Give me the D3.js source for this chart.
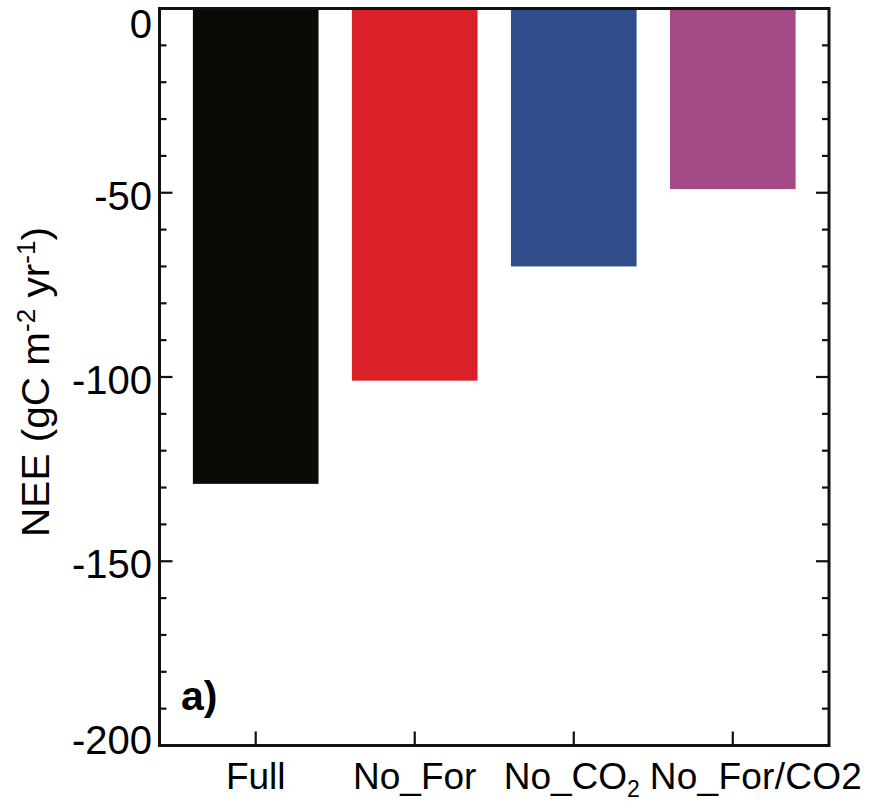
<!DOCTYPE html>
<html><head><meta charset="utf-8">
<script src="https://cdn.jsdelivr.net/npm/d3@7"></script>
<style>body{margin:0;background:#fff}svg{display:block}text{font-family:"Liberation Sans",Arial,Helvetica,sans-serif}</style>
</head><body>
<svg id="c" width="882" height="803"></svg>
<script>
const categories = ["Full", "No_For", "No_CO2", "No_For/CO2"];
const values = [-129, -101, -70, -49];
const colors = ["#0b0b05", "#da2128", "#324d8c", "#a34a87"];
const yTicks = [0, -50, -100, -150, -200];
const yMinor = d3.range(0, -201, -10);

const svg = d3.select("#c");
const L = 159.5, R = 829, T = 8.5, B = 745.5;
const x = d3.scaleBand().domain(categories).range([L, R]).paddingInner(0.21).paddingOuter(0.21);
const y = d3.scaleLinear().domain([0, -200]).range([T, B]);

// bars
svg.append("g").selectAll("rect").data(categories).join("rect")
  .attr("x", d => x(d)).attr("width", x.bandwidth())
  .attr("y", y(0)).attr("height", (d, i) => y(values[i]) - y(0))
  .attr("fill", (d, i) => colors[i]);

const ax = svg.append("g").attr("stroke", "#111").attr("fill", "none");
yMinor.forEach(v => {
  const major = v % 50 === 0;
  const len = major ? 13 : 7;
  ax.append("line").attr("x1", L).attr("x2", L + len).attr("y1", y(v)).attr("y2", y(v)).attr("stroke-width", 2.2);
  ax.append("line").attr("x1", R).attr("x2", R - len).attr("y1", y(v)).attr("y2", y(v)).attr("stroke-width", 2.2);
});
categories.forEach(c => {
  const cx = x(c) + x.bandwidth() / 2;
  ax.append("line").attr("x1", cx).attr("x2", cx).attr("y1", B).attr("y2", B - 14).attr("stroke-width", 2.2);
});
ax.append("rect").attr("x", L).attr("y", T).attr("width", R - L).attr("height", B - T).attr("stroke-width", 3);

// y tick labels
const offs = {"0": 29, "-200": 8};
svg.append("g").selectAll("text").data(yTicks).join("text")
  .attr("x", 152).attr("y", d => y(d) + (offs[String(d)] !== undefined ? offs[String(d)] : 17))
  .attr("text-anchor", "end").attr("font-size", 40).attr("fill", "#000")
  .text(d => d);

// x labels
const xl = svg.append("g");
categories.forEach((c, i) => {
  const cx = x(c) + x.bandwidth() / 2;
  const t = xl.append("text").attr("y", 789).attr("font-size", 37).attr("fill", "#000");
  if (c === "No_CO2") {
    t.attr("x", cx - 2).attr("text-anchor", "middle");
    t.append("tspan").text("No_CO");
    t.append("tspan").attr("font-size", 23).attr("dy", 8).text("2");
  } else if (i === categories.length - 1) {
    t.attr("x", cx - 83).attr("text-anchor", "start").text(c)
      .attr("textLength", 212).attr("lengthAdjust", "spacing");
  } else {
    t.attr("x", cx).attr("text-anchor", "middle").text(c);
  }
});

// y axis title
const yt = svg.append("text").attr("text-anchor", "middle").attr("font-size", 39).attr("fill", "#000")
  .attr("transform", "translate(49,382) rotate(-90)");
yt.append("tspan").text("NEE (gC m");
yt.append("tspan").attr("font-size", 25).attr("dy", -14).text("-2");
yt.append("tspan").attr("dy", 14).text(" yr");
yt.append("tspan").attr("font-size", 25).attr("dy", -14).text("-1");
yt.append("tspan").attr("dy", 14).text(")");
const w = yt.node().getComputedTextLength();
yt.attr("transform", `translate(49,382) rotate(-90) scale(${310 / w},1)`);

// panel label
svg.append("text").attr("x", 181).attr("y", 710).attr("font-size", 41).attr("font-weight", "bold").attr("fill", "#000").text("a)");
</script>
</body></html>
